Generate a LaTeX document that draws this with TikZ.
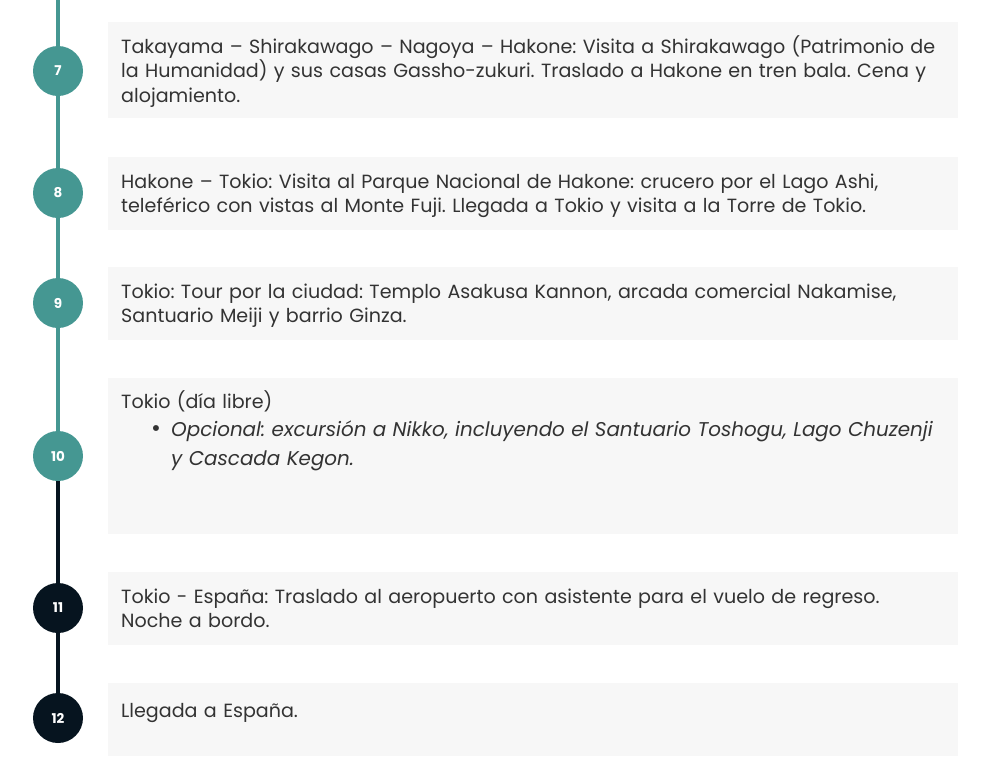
\documentclass[tikz,border=0pt]{standalone}
\usepackage{fontspec}
\setmainfont{Poppins}
\usetikzlibrary{positioning}
\definecolor{tealline}{RGB}{69,151,146}
\definecolor{navyline}{RGB}{6,20,31}
\definecolor{boxgray}{RGB}{247,247,247}
\definecolor{textgray}{RGB}{51,51,51}
\frenchspacing

\begin{document}
\begin{tikzpicture}[x=1pt,y=-1pt,
    day/.style={circle, fill=#1, minimum size=50pt, inner sep=0pt, text=white,
      font=\bfseries\fontsize{13.5}{13.5}\selectfont},
    box/.style={fill=boxgray, minimum width=850pt, anchor=north west, inner sep=0pt},
    txt/.style={anchor=base west, text width=835pt, align=left, inner sep=0pt,
      text=textgray, font=\fontsize{19.1}{24.5}\selectfont},
    link/.style={line width=4.5pt, draw=#1}]
  \useasboundingbox (0,0) rectangle (997,777);
  % boxes
  \node[box, minimum height=96pt] (b7)  at (108,22)  {};
  \node[box, minimum height=73pt] (b8)  at (108,157) {};
  \node[box, minimum height=73pt] (b9)  at (108,267) {};
  \node[box, minimum height=156pt] (b10) at (108,378) {};
  \node[box, minimum height=73pt] (b11) at (108,572) {};
  \node[box, minimum height=73pt] (b12) at (108,683) {};
  % day markers
  \node[day=tealline] (d7)  at (58,71)  {7};
  \node[day=tealline] (d8)  at (58,193) {8};
  \node[day=tealline] (d9)  at (58,303) {9};
  \node[day=tealline] (d10) at (58,456) {10};
  \node[day=navyline] (d11) at (58,608) {11};
  \node[day=navyline] (d12) at (58,718) {12};
  \coordinate (top) at (58,0);
  \draw[link=tealline] (top) -- (d7);
  \draw[link=tealline] (d7) -- (d8);
  \draw[link=tealline] (d8) -- (d9);
  \draw[link=tealline] (d9) -- (d10);
  \draw[link=navyline] (d10) -- (d11);
  \draw[link=navyline] (d11) -- (d12);
  % texts
  \node[txt] (t7) at (121,53) {Takayama – Shirakawago – Nagoya – Hakone: Visita a Shirakawago (Patrimonio de\\
    la Humanidad) y sus casas Gassho-zukuri. Traslado a Hakone en tren bala. Cena y\\
    alojamiento.};
  \node[txt] (t8) at (121,188) {Hakone – Tokio: Visita al Parque Nacional de Hakone: crucero por el Lago Ashi,\\
    teleférico con vistas al Monte Fuji. Llegada a Tokio y visita a la Torre de Tokio.};
  \node[txt] (t9) at (121,298) {Tokio: Tour por la ciudad: Templo Asakusa Kannon, arcada comercial Nakamise,\\
    Santuario Meiji y barrio Ginza.};
  \node[txt, font=\fontsize{19.1}{28.5}\selectfont] (t10) at (121,408) {Tokio (día libre)\\
    \makebox[50pt][l]{\hspace*{30pt}{\fontsize{24}{24}\selectfont\textbullet}}{\fontsize{19.9}{28.5}\selectfont\itshape Opcional: excursión a Nikko, incluyendo el Santuario Toshogu, Lago Chuzenji}\\
    \hspace*{50pt}{\fontsize{19.9}{28.5}\selectfont\itshape y Cascada Kegon.}};
  \node[txt] (t11) at (121,603) {Tokio - España: Traslado al aeropuerto con asistente para el vuelo de regreso.\\
    Noche a bordo.};
  \node[txt] (t12) at (121,717) {Llegada a España.};
\end{tikzpicture}
\end{document}
